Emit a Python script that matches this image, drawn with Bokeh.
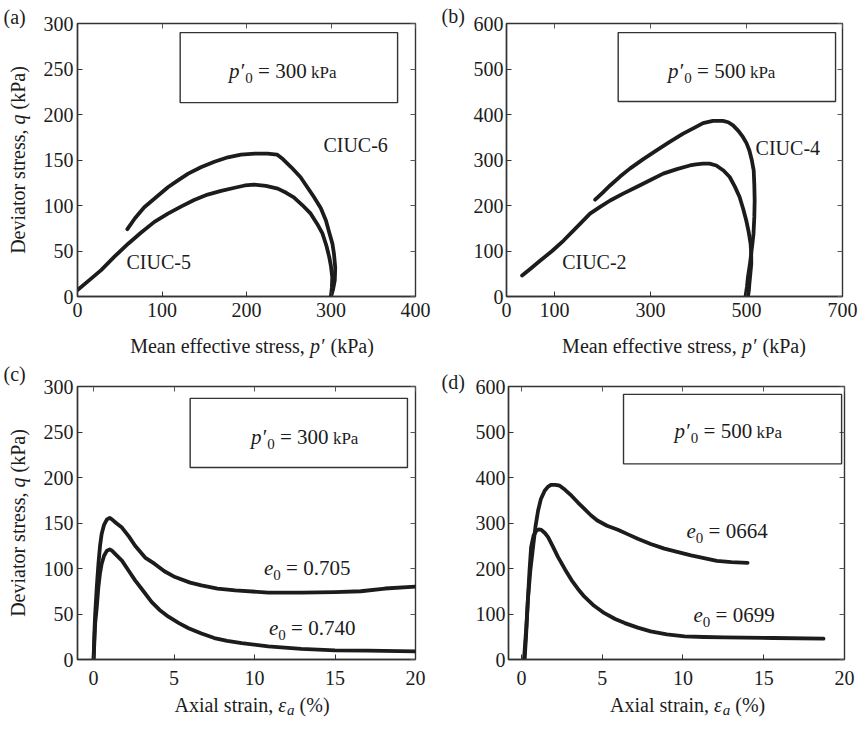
import math
from bokeh.plotting import figure
from bokeh.layouts import column, row
from bokeh.models import Label, BoxAnnotation, LinearAxis, FixedTicker, Range1d
from bokeh.embed import file_html
from bokeh.resources import INLINE

FONT = "Liberation Serif"
INK = "#1c1c1c"
FRAME = "#333333"
BFIX = 0.32  # the label box sits its baseline at the box bottom; lift by the descent

# ---------------- data ----------------
# (a) stress paths, p'0 = 300 kPa
a_ciuc6_p = [300, 302.5, 304.5, 305, 303.5, 301.7, 298, 294, 288, 280, 272, 264, 253, 243, 236,
             225, 210, 193.5, 178, 162, 146, 131, 118, 107, 93, 79, 68, 59]
a_ciuc6_q = [0, 8, 18, 32, 47, 58, 70, 83.6, 97, 109, 120, 131, 142, 151, 156,
             157, 157, 156, 153, 148, 142, 135, 127, 120, 109, 98, 86, 74]
a_ciuc5_p = [300, 301, 301.5, 300, 298, 294.5, 290, 283.5, 276, 266, 256, 247, 237, 223, 209,
             198, 186, 170, 154, 138, 123, 107, 91, 75, 60, 44, 28, 14, 0]
a_ciuc5_q = [0, 10, 21, 33, 43, 56, 69, 80, 91, 100.5, 109, 114, 118.5, 121.5, 123,
             122, 119.5, 116, 112, 106, 99, 91, 82, 70, 58, 44, 29, 18, 7]
# (b) stress paths, p'0 = 500 kPa
b_ciuc4_p = [498, 501, 503, 507, 509.8, 512.5, 514.6, 516.3, 517, 516.3, 515, 511, 506, 500, 492.5,
             483, 472, 462, 451, 430, 409.5, 390, 368, 340, 312.6, 285, 257, 236, 215.8, 200, 184.7]
b_ciuc4_q = [0, 22, 42.5, 70, 94, 118, 138, 175, 211, 245, 277, 300, 321, 337, 350.6,
             364, 376, 383, 386, 386, 381, 370, 358, 340, 321, 302, 281, 263, 244, 228, 212.7]
b_ciuc2_p = [503, 505, 506, 508, 510, 509.8, 508.5, 504.5, 499.5, 493, 485.6, 476, 465, 452, 437,
             423, 409.5, 395, 382, 355, 326.5, 300, 271, 243, 216, 195, 174, 146, 119, 95, 70.5, 50, 32.5]
b_ciuc2_q = [0, 14, 28, 50, 72, 94, 116, 142, 167, 193, 218.6, 241, 262.6, 277, 288,
             292, 292, 290.5, 288, 280, 270, 256, 240.6, 226, 211, 197, 182, 152, 123, 100, 79, 61, 46]
# (c) stress-strain, p'0 = 300 kPa
c_e705_x = [0, 0.05, 0.1, 0.2, 0.3, 0.4, 0.5, 0.65, 0.83, 1.0, 1.14, 1.4, 1.76, 2.2, 2.58, 3.2, 3.8,
            4.4, 5.06, 6.0, 6.7, 7.7, 8.8, 10.85, 12.9, 15, 16.6, 18.1, 20]
c_e705_y = [0, 30, 50.7, 80, 105, 125, 138, 148, 154, 155.5, 154, 150, 145, 135, 125, 112, 105,
            97, 90.6, 84.5, 81.5, 78, 76, 73.5, 73.5, 74, 75, 78, 80]
c_e740_x = [0, 0.1, 0.2, 0.3, 0.4, 0.5, 0.65, 0.83, 1.0, 1.14, 1.4, 1.76, 2.2, 2.58, 3.1, 3.6, 4.1,
            4.65, 5.3, 5.9, 6.7, 7.5, 8.3, 9.2, 10.85, 12.9, 15, 17, 20]
c_e740_y = [0, 40, 58, 80, 95, 105, 114, 119.6, 121, 119.6, 115, 108.7, 97, 87, 75, 63.4, 54.5,
            47, 40, 34.4, 28.5, 23.6, 20.5, 18, 14.5, 11.6, 10, 9.8, 9]
# (d) stress-strain, p'0 = 500 kPa
d_e664_x = [0.16, 0.3, 0.4, 0.55, 0.72, 0.87, 1.03, 1.2, 1.44, 1.65, 1.85, 2.1, 2.37, 2.7, 3.1, 3.5,
            3.9, 4.3, 4.7, 5.3, 5.97, 6.6, 7.2, 8.0, 8.85, 9.7, 10.5, 11.3, 12.1, 13, 14.0]
d_e664_y = [0, 70, 131, 195, 247, 292, 327, 352, 371, 380, 384, 384, 382, 373, 360, 345,
            331, 317, 305.5, 294, 285, 275, 265.5, 254, 243.6, 236, 229, 223, 216.7, 214, 212.4]
d_e699_x = [0.2, 0.3, 0.4, 0.5, 0.6, 0.75, 0.93, 1.08, 1.23, 1.45, 1.65, 1.95, 2.26, 2.7, 3.1, 3.5,
            3.9, 4.5, 5.14, 5.8, 6.4, 7.2, 8.0, 9.0, 10.1, 11.3, 12.55, 15.6, 18.7]
d_e699_y = [0, 60, 131, 195, 247, 272, 283.6, 286, 285, 278, 269, 248, 225.5, 198, 174.5, 155,
            138, 118, 101.8, 89, 80, 70, 61.8, 55, 51, 49.5, 48.7, 47.3, 45.8]

a_xticks = [0, 100, 200, 300, 400]
a_yticks = [0, 50, 100, 150, 200, 250, 300]
b_xticks = [0, 100, 300, 500, 700]
b_yticks = [0, 100, 200, 300, 400, 500, 600]
c_xticks = [0, 5, 10, 15, 20]
c_yticks = a_yticks
d_xticks = c_xticks
d_yticks = b_yticks

# ---------------- text helpers ----------------
W = {' ': 250, '(': 333, ')': 333, '%': 833, ',': 250, '-': 333, '.': 250, '=': 564,
     'A': 722, 'C': 667, 'D': 722, 'I': 333, 'M': 889, 'P': 556, 'U': 722,
     'a': 444, 'c': 444, 'e': 444, 'f': 333, 'i': 278, 'k': 500, 'l': 278, 'n': 500,
     'o': 500, 'r': 333, 's': 389, 't': 278, 'v': 500, 'x': 500, '\u2032': 275}
WI = {'p': 500, 'q': 500, 'e': 444, 'a': 500, '\u03b5': 440, '\u2032': 275}


def tw(s, size, italic):
    tab = WI if italic else W
    return sum(tab.get(ch, W.get(ch, 500)) for ch in s) / 1000.0 * size


def rich(fig, x, y, pieces, align="left", angle=0.0):
    total = sum(tw(t, s, it) for t, s, it, dy in pieces)
    off = 0.0 if align == "left" else -total / 2.0
    for t, s, it, dy in pieces:
        lead = len(t) - len(t.lstrip(" "))
        core = t.strip(" ")
        trail = len(t) - lead - len(core)
        off += tw(" " * lead, s, False)
        kw = dict(x=x, y=y, text=core, text_font=FONT, text_font_size=f"{s}px",
                  text_font_style="italic" if it else "normal",
                  text_color=INK, text_align="left", text_baseline="alphabetic")
        lift = BFIX * s
        if angle == 0:
            kw.update(x_offset=off, y_offset=-dy + lift)
        else:
            kw.update(x_offset=dy - lift, y_offset=off, angle=angle)
        fig.add_layout(Label(**kw))
        off += tw(core, s, it) + tw(" " * trail, s, False)


def make_fig(w, h, bl, br, bt, bb, xr, yr, xt, yt, xstand, ystand):
    p = figure(width=w, height=h, x_range=Range1d(*xr), y_range=Range1d(*yr),
               output_backend="svg", toolbar_location=None, title=None,
               min_border_left=bl, min_border_right=br,
               min_border_top=bt, min_border_bottom=bb)
    p.xgrid.visible = False
    p.ygrid.visible = False
    p.background_fill_color = "white"
    p.border_fill_color = "white"
    p.outline_line_color = FRAME
    p.outline_line_width = 1.4
    for ax, ticks, stand in ((p.xaxis[0], xt, xstand), (p.yaxis[0], yt, ystand)):
        ax.ticker = FixedTicker(ticks=ticks)
        ax.major_tick_in = 5
        ax.major_tick_out = 0
        ax.minor_tick_in = 0
        ax.minor_tick_out = 0
        ax.major_label_standoff = stand
        ax.major_label_text_font = FONT
        ax.major_label_text_font_size = "20px"
        ax.major_label_text_color = INK
        ax.axis_line_color = FRAME
        ax.axis_line_width = 1.4
        ax.major_tick_line_color = FRAME
    for side, ticks in (("above", xt), ("right", yt)):
        ax = LinearAxis(ticker=FixedTicker(ticks=ticks),
                        major_label_overrides={t: "" for t in ticks},
                        major_label_text_font_size="0px", major_label_standoff=0,
                        major_tick_in=5, major_tick_out=0,
                        minor_tick_in=0, minor_tick_out=0,
                        axis_line_color=None, major_tick_line_color="#555555")
        p.add_layout(ax, side)
    return p


def strip(w, h):
    s = figure(width=w, height=h, x_range=Range1d(0, w), y_range=Range1d(h, 0),
               output_backend="svg", toolbar_location=None, title=None, min_border=0,
               x_axis_type=None, y_axis_type=None)
    s.xgrid.visible = False
    s.ygrid.visible = False
    s.outline_line_color = None
    s.background_fill_color = "white"
    s.border_fill_color = "white"
    return s


def curve(p, xs, ys):
    p.line(xs, ys, line_color=INK, line_width=3.8, line_join="round", line_cap="round")


def box(p, l, r, b, t):
    p.add_layout(BoxAnnotation(left=l, right=r, bottom=b, top=t, fill_color=None,
                               fill_alpha=0, line_color=FRAME, line_alpha=1.0,
                               line_width=1.4))


def legend_text(p, x, y, val):
    rich(p, x, y, [("p\u2032", 21, True, 0), ("0", 15, False, 5),
                   (f" = {val}", 21, False, 0), (" kPa", 17, False, 0)])


def e_text(p, x, y, val):
    rich(p, x, y, [("e", 21, True, 0), ("0", 15, False, 5), (f" = {val}", 21, False, 0)])


def plain(p, x, y, txt, size=20):
    rich(p, x, y, [(txt, size, False, 0)])


YLAB = [("Deviator stress, ", 20, False, 0), ("q", 20, True, 0), (" (kPa)", 20, False, 0)]
XLAB_P = [("Mean effective stress, ", 20, False, 0), ("p\u2032", 20, True, 0), (" (kPa)", 20, False, 0)]
XLAB_E = [("Axial strain, ", 20, False, 0), ("\u03b5", 20, True, 0), ("a", 15, True, 3), (" (%)", 20, False, 0)]

# ---------------- (a) ----------------
pa = make_fig(398, 326, 36, 23, 23, 30, (0, 400), (0, 300), a_xticks, a_yticks, 6, 4)
curve(pa, a_ciuc6_p, a_ciuc6_q)
curve(pa, a_ciuc5_p, a_ciuc5_q)
box(pa, 121.5, 378.8, 213, 290)
legend_text(pa, 179.4, 240.7, "300")
plain(pa, 291, 159, "CIUC-6")
plain(pa, 58, 31, "CIUC-5")
xl_a = strip(398, 32)
rich(xl_a, 205.5, 26, XLAB_P, align="center")
st_a = strip(40, 358)
plain(st_a, 3, 23, "(a)")
rich(st_a, 24, 159.5, YLAB, align="center", angle=math.pi / 2)

# ---------------- (b) ----------------
pb = make_fig(390, 326, 38, 16, 23, 30, (0, 700), (0, 600), b_xticks, b_yticks, 6, 3)
curve(pb, b_ciuc4_p, b_ciuc4_q)
curve(pb, b_ciuc2_p, b_ciuc2_q)
box(pb, 232.7, 685.5, 428.6, 580)
legend_text(pb, 336.5, 481, "500")
plain(pb, 519, 312, "CIUC-4")
plain(pb, 116, 61.5, "CIUC-2")
xl_b = strip(390, 32)
rich(xl_b, 206, 26, XLAB_P, align="center")
st_b = strip(30, 358)
plain(st_b, 3, 22, "(b)")

# ---------------- (c) ----------------
pc = make_fig(398, 335, 36, 23, 28, 34, (-1, 20), (0, 300), c_xticks, c_yticks, 11, 4)
curve(pc, c_e705_x, c_e705_y)
curve(pc, c_e740_x, c_e740_y)
box(pc, 6.0, 19.5, 211, 287)
legend_text(pc, 9.78, 237, "300")
e_text(pc, 10.59, 93.5, "0.705")
e_text(pc, 10.9, 27, "0.740")
xl_c = strip(398, 25)
rich(xl_c, 205.5, 18, XLAB_E, align="center")
st_c = strip(40, 360)
plain(st_c, 3, 22, "(c)")
rich(st_c, 24, 164.5, YLAB, align="center", angle=math.pi / 2)

# ---------------- (d) ----------------
pd_ = make_fig(390, 335, 40, 14, 28, 34, (-0.8, 20), (0, 600), d_xticks, d_yticks, 11, 3)
curve(pd_, d_e664_x, d_e664_y)
curve(pd_, d_e699_x, d_e699_y)
box(pd_, 6.32, 19.82, 430, 582.6)
legend_text(pd_, 9.48, 486.6, "500")
e_text(pd_, 10.22, 268, "0664")
e_text(pd_, 10.65, 83, "0699")
xl_d = strip(390, 25)
rich(xl_d, 208, 18, XLAB_E, align="center")
st_d = strip(30, 360)
plain(st_d, 3, 30, "(d)")

layout = column(
    row(st_a, column(pa, xl_a), st_b, column(pb, xl_b)),
    row(st_c, column(pc, xl_c), st_d, column(pd_, xl_d)),
)
open("out.html", "w").write(file_html(layout, INLINE))
